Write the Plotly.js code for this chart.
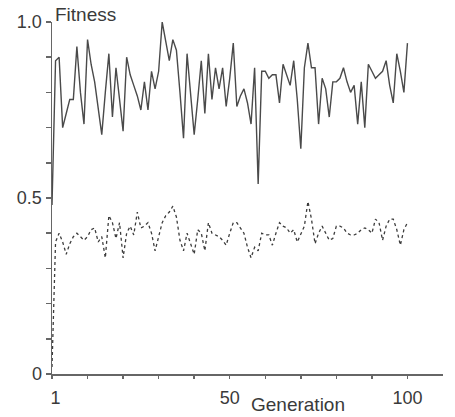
<!DOCTYPE html>
<html>
<head>
<meta charset="utf-8">
<script src="https://cdn.plot.ly/plotly-3.0.1.min.js"></script>
<style>html,body{margin:0;padding:0;background:#fff;}#chart{width:455px;height:417px;}</style>
</head>
<body>
<div id="chart"></div>
<script>
// Generation 0..100
var generations = [];
for (var i = 0; i <= 100; i++) generations.push(i);

var bestFitness = [
  0.48, 0.89, 0.90, 0.70, 0.74, 0.78, 0.78, 0.93, 0.80, 0.71,
  0.95, 0.88, 0.83, 0.76, 0.68, 0.80, 0.91, 0.73, 0.87, 0.78,
  0.69, 0.90, 0.85, 0.82, 0.79, 0.75, 0.83, 0.75, 0.86, 0.81,
  0.86, 1.00, 0.94, 0.89, 0.95, 0.92, 0.80, 0.67, 0.91, 0.80,
  0.68, 0.78, 0.89, 0.74, 0.91, 0.78, 0.87, 0.81, 0.87, 0.76,
  0.84, 0.94, 0.76, 0.79, 0.81, 0.77, 0.71, 0.87, 0.54, 0.86,
  0.86, 0.84, 0.85, 0.85, 0.77, 0.88, 0.85, 0.82, 0.89, 0.78,
  0.64, 0.87, 0.94, 0.87, 0.87, 0.71, 0.84, 0.81, 0.73, 0.83,
  0.83, 0.84, 0.87, 0.83, 0.80, 0.82, 0.71, 0.83, 0.70, 0.88,
  0.86, 0.84, 0.85, 0.86, 0.89, 0.82, 0.77, 0.91, 0.86, 0.80,
  0.94
];

var meanFitness = [
  0.02, 0.375, 0.40, 0.375, 0.34, 0.37, 0.39, 0.40, 0.39, 0.38,
  0.39, 0.41, 0.415, 0.375, 0.39, 0.33, 0.45, 0.43, 0.385, 0.43,
  0.33, 0.40, 0.42, 0.395, 0.46, 0.415, 0.42, 0.43, 0.40, 0.35,
  0.39, 0.43, 0.45, 0.46, 0.477, 0.446, 0.38, 0.35, 0.40, 0.37,
  0.34, 0.41, 0.40, 0.35, 0.43, 0.40, 0.395, 0.39, 0.38, 0.366,
  0.40, 0.43, 0.43, 0.415, 0.40, 0.36, 0.33, 0.36, 0.35, 0.40,
  0.395, 0.395, 0.366, 0.40, 0.43, 0.42, 0.415, 0.40, 0.41, 0.375,
  0.40, 0.42, 0.49, 0.44, 0.37, 0.40, 0.42, 0.40, 0.38, 0.385,
  0.42, 0.42, 0.415, 0.40, 0.395, 0.395, 0.40, 0.41, 0.415, 0.41,
  0.40, 0.44, 0.43, 0.38, 0.42, 0.44, 0.44, 0.41, 0.366, 0.41,
  0.43
];

var yTickVals = [0, 0.1, 0.2, 0.3, 0.4, 0.5, 0.6, 0.7, 0.8, 0.9, 1.0];
var yTickText = ['0', '', '', '', '', '0.5', '', '', '', '', '1.0'];
var xTickVals = [0, 10, 20, 30, 40, 50, 60, 70, 80, 90, 100];
var xLabelVals = [1, 50, 100];
var xLabelText = ['1', '50', '100'];

var fontFam = 'Liberation Sans, Arial, sans-serif';
var ink = '#3a3a3a';

var traces = [
  {x: generations, y: bestFitness, type: 'scatter', mode: 'lines',
   line: {color: '#4a4a4a', width: 1.4}, hoverinfo: 'skip'},
  {x: generations, y: meanFitness, type: 'scatter', mode: 'lines',
   line: {color: '#3c3c3c', width: 1.3, dash: 'dot'}, hoverinfo: 'skip'},
  {x: [0], y: [0], xaxis: 'x2', type: 'scatter', mode: 'markers',
   marker: {opacity: 0}, hoverinfo: 'skip'}
];

var layout = {
  width: 455, height: 417,
  margin: {l: 52, r: 12, t: 22, b: 43},
  paper_bgcolor: '#fff', plot_bgcolor: '#fff',
  showlegend: false,
  font: {family: fontFam, size: 18, color: ink},
  xaxis: {
    range: [0, 110], showgrid: false, zeroline: false,
    showline: true, linecolor: '#666', linewidth: 1.5,
    tickmode: 'array', tickvals: xTickVals, showticklabels: false,
    ticks: 'outside', ticklen: 3, tickwidth: 1.5, tickcolor: '#666'
  },
  xaxis2: {
    range: [0, 110], overlaying: 'x', side: 'bottom', anchor: 'y',
    showgrid: false, zeroline: false, showline: false,
    tickmode: 'array', tickvals: xLabelVals, ticktext: xLabelText,
    ticks: 'outside', ticklen: 7, tickcolor: 'rgba(0,0,0,0)',
    tickfont: {family: fontFam, size: 18, color: ink}
  },
  yaxis: {
    range: [0, 1.0], showgrid: false, zeroline: false,
    showline: true, linecolor: '#666', linewidth: 1.5,
    tickmode: 'array', tickvals: yTickVals, ticktext: yTickText,
    ticks: 'outside', ticklen: 5, tickwidth: 1.5, tickcolor: '#666',
    tickfont: {family: fontFam, size: 18, color: ink}
  },
  annotations: [
    {text: 'Fitness', xref: 'paper', yref: 'paper', x: 0, y: 1 + 8 / 352,
     xanchor: 'left', yanchor: 'middle', xshift: 1, showarrow: false,
     font: {family: fontFam, size: 19, color: ink}},
    {text: 'Generation', xref: 'paper', yref: 'paper', x: (298 - 52) / 391, y: 0,
     xanchor: 'center', yanchor: 'middle', yshift: -30, showarrow: false,
     font: {family: fontFam, size: 19, color: ink}}
  ]
};

Plotly.newPlot('chart', traces, layout, {staticPlot: true, displayModeBar: false});
</script>
</body>
</html>
